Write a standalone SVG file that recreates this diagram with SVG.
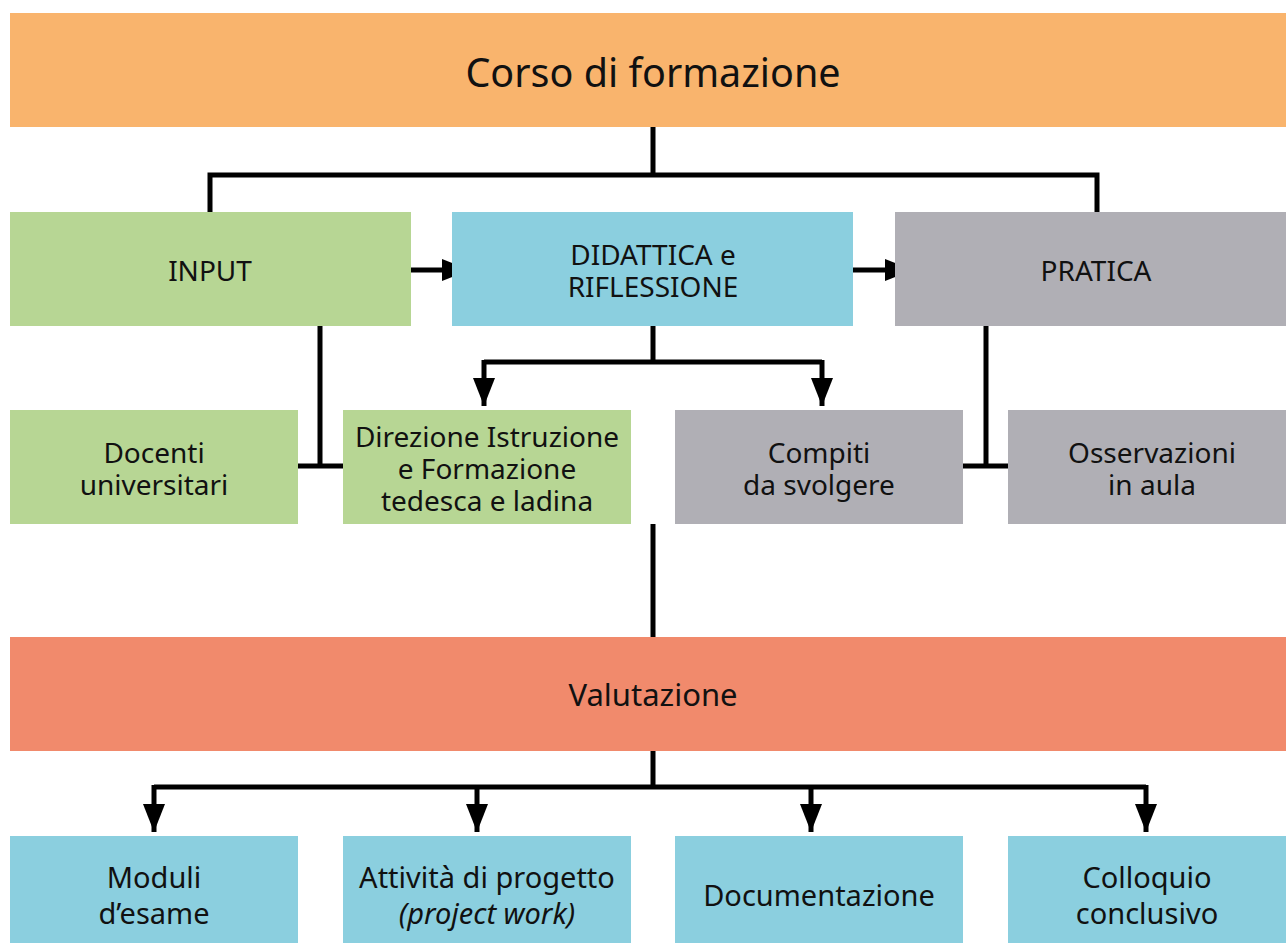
<svg xmlns="http://www.w3.org/2000/svg" width="1286" height="943" viewBox="0 0 1286 943">
<style>
text{font-family:"Noto Sans","DejaVu Sans",sans-serif;font-size:28px;fill:#111;text-anchor:middle;dominant-baseline:central}
.b{font-size:29px}
.c{fill:none;stroke:#000;stroke-width:5}
.or{fill:#F9B46D}.gr{fill:#B7D694}.bl{fill:#8BCFDF}.gy{fill:#B0AFB5}.rd{fill:#F18A6C}
</style>
<defs>
<marker id="ah" markerUnits="userSpaceOnUse" markerWidth="30" markerHeight="24" refX="28" refY="11" orient="auto"><path d="M0,0 L28,11 L0,22 Z" fill="#000"/></marker>
</defs>
<rect width="1286" height="943" fill="#fff"/>
<g id="connectors">
<path class="c" d="M653,127 V175 M210,212 V175 H1097 V212"/>
<path class="c" d="M411,270 H470" marker-end="url(#ah)"/>
<path class="c" d="M853,270 H913" marker-end="url(#ah)"/>
<path class="c" d="M320,326 V466 M298,466 H343"/>
<path class="c" d="M986,326 V466 M963,466 H1008"/>
<path class="c" d="M653,326 V362 M484,362 H822"/>
<path class="c" d="M484,360 V406" marker-end="url(#ah)"/>
<path class="c" d="M822,360 V406" marker-end="url(#ah)"/>
<path class="c" d="M653,524 V637"/>
<path class="c" d="M653,751 V787 M154,787 H1146"/>
<path class="c" d="M154,785 V832" marker-end="url(#ah)"/>
<path class="c" d="M477,785 V832" marker-end="url(#ah)"/>
<path class="c" d="M811,785 V832" marker-end="url(#ah)"/>
<path class="c" d="M1146,785 V832" marker-end="url(#ah)"/>
</g>
<g id="corso"><rect class="or" x="10" y="13" width="1276" height="114"/><text x="653" y="72" style="font-size:39.5px">Corso di formazione</text></g>
<g id="input"><rect class="gr" x="10" y="212" width="401" height="114"/><text x="210" y="270">INPUT</text></g>
<g id="didattica"><rect class="bl" x="452" y="212" width="401" height="114"/><text x="653" y="254">DIDATTICA e</text><text x="653" y="286">RIFLESSIONE</text></g>
<g id="pratica"><rect class="gy" x="895" y="212" width="391" height="114"/><text x="1096" y="270">PRATICA</text></g>
<g id="docenti"><rect class="gr" x="10" y="410" width="288" height="114"/><text x="154" y="452">Docenti</text><text x="154" y="484">universitari</text></g>
<g id="direzione"><rect class="gr" x="343" y="410" width="288" height="114"/><text x="487" y="436">Direzione Istruzione</text><text x="487" y="468">e Formazione</text><text x="487" y="500">tedesca e ladina</text></g>
<g id="compiti"><rect class="gy" x="675" y="410" width="288" height="114"/><text x="819" y="452">Compiti</text><text x="819" y="484">da svolgere</text></g>
<g id="osservazioni"><rect class="gy" x="1008" y="410" width="278" height="114"/><text x="1152" y="452">Osservazioni</text><text x="1152" y="484">in aula</text></g>
<g id="valutazione"><rect class="rd" x="10" y="637" width="1276" height="114"/><text x="653" y="694" style="font-size:31px">Valutazione</text></g>
<g id="moduli"><rect class="bl" x="10" y="836" width="288" height="107"/><text class="b" x="154" y="876">Moduli</text><text class="b" x="154" y="912">d’esame</text></g>
<g id="attivita"><rect class="bl" x="343" y="836" width="288" height="107"/><text class="b" x="487" y="876">Attività di progetto</text><text class="b" x="487" y="912" style="font-style:italic">(project work)</text></g>
<g id="documentazione"><rect class="bl" x="675" y="836" width="288" height="107"/><text class="b" x="819" y="894">Documentazione</text></g>
<g id="colloquio"><rect class="bl" x="1008" y="836" width="278" height="107"/><text class="b" x="1147" y="876">Colloquio</text><text class="b" x="1147" y="912">conclusivo</text></g>
</svg>
